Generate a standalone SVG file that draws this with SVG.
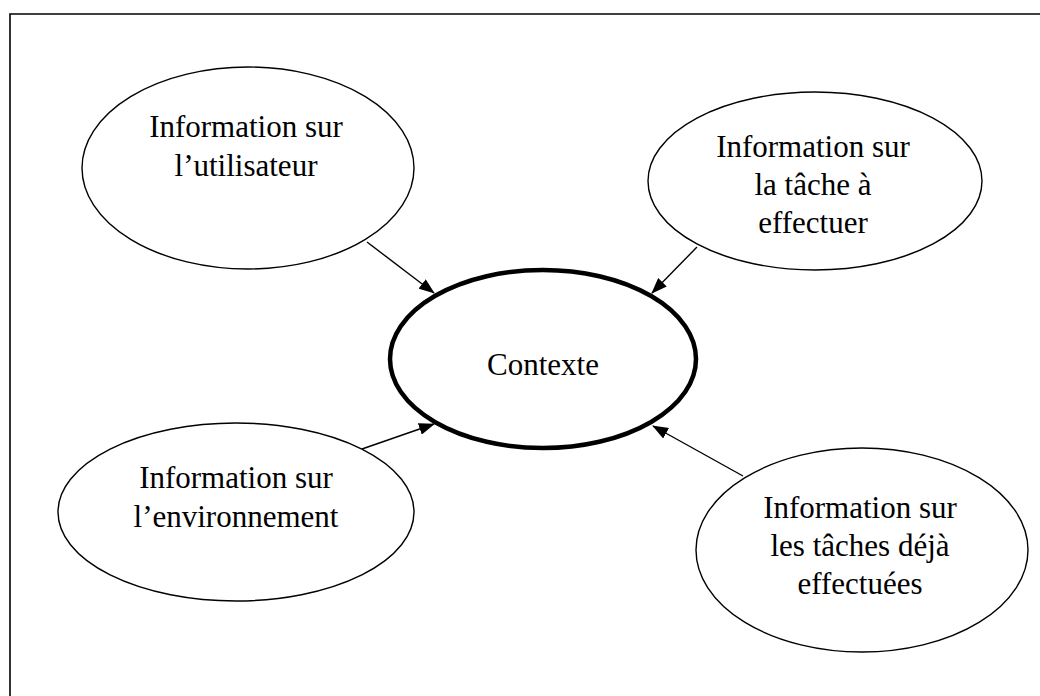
<svg xmlns="http://www.w3.org/2000/svg" width="1040" height="696" viewBox="0 0 1040 696">
<style>
.node{fill:#fff;stroke:#000;stroke-width:1.4}
.main{fill:#fff;stroke:#000;stroke-width:4.5}
.lbl{font-family:"Liberation Serif","Times New Roman",serif;font-size:31px;fill:#000;text-anchor:middle}
.edge{stroke:#000;stroke-width:1.4;fill:none;marker-end:url(#arr)}
.frame{stroke:#000;stroke-width:1.6;fill:none}
</style>
<defs>
<marker id="arr" markerUnits="userSpaceOnUse" markerWidth="16" markerHeight="12" viewBox="0 0 16 12" refX="15" refY="6" orient="auto">
<path d="M0,0 L16,6 L0,12 Z" fill="#000"/>
</marker>
</defs>
<rect width="1040" height="696" fill="#fff"/>
<path class="frame" d="M10,696 L10,14 L1040,14"/>
<g id="connectors">
<line class="edge" x1="367" y1="242" x2="434" y2="293"/>
<line class="edge" x1="697" y1="247" x2="652" y2="293"/>
<line class="edge" x1="362" y1="449" x2="434" y2="424"/>
<line class="edge" x1="743" y1="476" x2="653" y2="426"/>
</g>
<g id="contexte">
<ellipse class="main" cx="543" cy="359" rx="153" ry="89"/>
<text class="lbl" x="543" y="375">Contexte</text>
</g>
<g id="utilisateur">
<ellipse class="node" cx="248" cy="168" rx="166" ry="101"/>
<text class="lbl" x="246" y="137">Information sur</text>
<text class="lbl" x="246" y="176">l’utilisateur</text>
</g>
<g id="tache">
<ellipse class="node" cx="815" cy="181" rx="167" ry="89"/>
<text class="lbl" x="813" y="157">Information sur</text>
<text class="lbl" x="813" y="195">la tâche à</text>
<text class="lbl" x="813" y="233">effectuer</text>
</g>
<g id="environnement">
<ellipse class="node" cx="236" cy="512" rx="178" ry="89"/>
<text class="lbl" x="236" y="488">Information sur</text>
<text class="lbl" x="236" y="527">l’environnement</text>
</g>
<g id="taches-effectuees">
<ellipse class="node" cx="862" cy="550" rx="166" ry="102"/>
<text class="lbl" x="860" y="518">Information sur</text>
<text class="lbl" x="860" y="556">les tâches déjà</text>
<text class="lbl" x="860" y="594">effectuées</text>
</g>
</svg>
